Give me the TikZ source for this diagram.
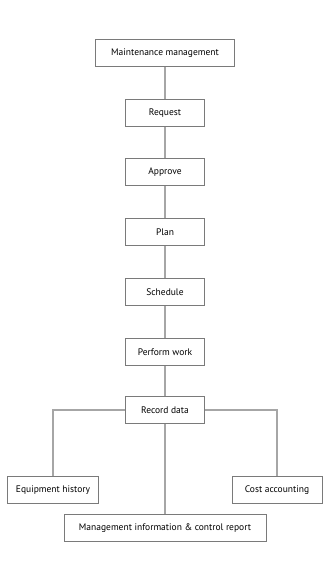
\documentclass[tikz,border=0pt]{standalone}
\usepackage{fontspec}
\setmainfont{PT Sans}
\definecolor{boxline}{HTML}{7a7a7a}
\definecolor{link}{HTML}{a6a6a6}
\tikzset{
  stage/.style={draw=boxline, line width=0.8pt, fill=white, minimum height=27pt,
    inner sep=0pt, font=\fontsize{9.5}{11}\selectfont},
  wire/.style={draw=link, line width=1.2pt},
}
\begin{document}
\begin{tikzpicture}[x=1pt, y=-1pt]

\useasboundingbox[fill=white] (0,0) rectangle (330,583);

% main chain
\node[stage, minimum width=139pt] (mm) at (165,53) {Maintenance management};
\node[stage, minimum width=79pt] (req) at (165,113) {Request};
\node[stage, minimum width=79pt] (app) at (165,172) {Approve};
\node[stage, minimum width=79pt] (plan) at (165,232) {Plan};
\node[stage, minimum width=79pt] (sch) at (165,292) {Schedule};
\node[stage, minimum width=79pt] (pw) at (165,352) {Perform work};
\node[stage, minimum width=79pt] (rec) at (165,410) {Record data};

% outputs
\node[stage, minimum width=91pt] (eq) at (53,490) {Equipment history};
\node[stage, minimum width=90pt] (cost) at (277,490) {Cost accounting};
\node[stage, minimum width=202pt] (mis) at (165,528) {Management information \& control report};

% connectors
\draw[wire] (mm) -- (req);
\draw[wire] (req) -- (app);
\draw[wire] (app) -- (plan);
\draw[wire] (plan) -- (sch);
\draw[wire] (sch) -- (pw);
\draw[wire] (pw) -- (rec);
\draw[wire] (rec.west) -| (eq.north);
\draw[wire] (rec.east) -| (cost.north);
\draw[wire] (rec) -- (mis);

\end{tikzpicture}
\end{document}
